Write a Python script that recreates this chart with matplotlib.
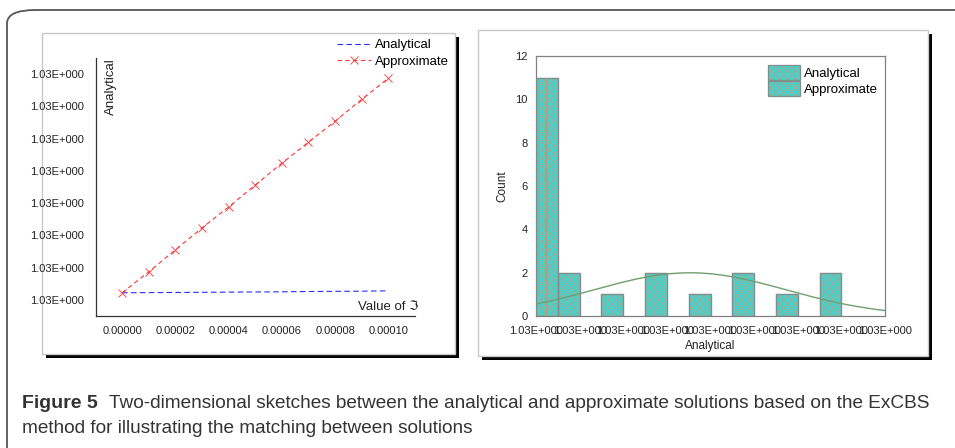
import numpy as np
import matplotlib
matplotlib.use('Agg')
import matplotlib.pyplot as plt
from matplotlib.patches import Rectangle, FancyBboxPatch
from matplotlib.ticker import FuncFormatter
from matplotlib.legend_handler import HandlerTuple

W, H = 955, 448

# left panel: value of the parameter vs solution (offset in units of 1e-6 above 1.03)
theta = [0.0, 0.00001, 0.00002, 0.00003, 0.00004, 0.00005,
         0.00006, 0.00007, 0.00008, 0.00009, 0.0001]
analytical_off = [0.22, 0.225, 0.23, 0.235, 0.24, 0.245, 0.25, 0.26, 0.265, 0.27, 0.28]
approx_off = [0.22, 0.87, 1.55, 2.23, 2.88, 3.56, 4.24, 4.89, 5.54, 6.22, 6.87]
y_base = 1.03
y_step = 1e-6

# right panel: histogram counts (bin width 0.5 in tick units)
bin_left = [0.0, 0.5, 1.5, 2.5, 3.5, 4.5, 5.5, 6.5]
bin_count = [11, 2, 1, 2, 1, 2, 1, 2]
bin_width = 0.5
n_total = 22
fit_mean = 3.53
fit_sd = 2.2
analytical_spike = 0.2

CYAN = '#45d2cf'
TAN = '#d8946c'
EDGE = '#7f8f8f'

def fx(px):
    return px / W

def fy(py):
    return 1 - py / H

fig = plt.figure(figsize=(9.55, 4.48), dpi=100)
plt.rcParams['font.family'] = ['Liberation Sans', 'DejaVu Sans']
plt.rcParams['hatch.linewidth'] = 0.5

# outer rounded frame
frame = FancyBboxPatch((fx(7), fy(470)), fx(980), 460 / H,
                       boxstyle='round,pad=0,rounding_size=0.03',
                       transform=fig.transFigure, fc='none', ec='#555555', lw=1.3, zorder=-5)
fig.patches.append(frame)

# panel boxes with shadow
for (x0, y0, x1, y1) in [(42, 33, 455, 354), (478, 30, 928, 356)]:
    fig.patches.append(Rectangle((fx(x0 + 4), fy(y1 + 4)), fx(x1 - x0), (y1 - y0) / H,
                                 transform=fig.transFigure, fc='black', ec='none', zorder=-4))
    fig.patches.append(Rectangle((fx(x0), fy(y1)), fx(x1 - x0), (y1 - y0) / H,
                                 transform=fig.transFigure, fc='white', ec='#c8c8c8', lw=1, zorder=-3))

# ---- left chart
ax1 = fig.add_axes([fx(96), fy(316), fx(415 - 96), (316 - 58) / H])
ax1.patch.set_visible(False)
ya = [y_base + v * y_step for v in analytical_off]
yb = [y_base + v * y_step for v in approx_off]
ax1.plot(theta, ya, ls='--', color='#2a2aff', lw=0.8, dashes=(5, 3), label='Analytical')
ax1.plot(theta, yb, ls='--', color='#ff3333', lw=0.8, dashes=(4, 3), marker='x',
         ms=6, mew=0.6, label='Approximate')
ax1.set_xlim(-0.98e-5, 1.1e-4)
ax1.set_ylim(y_base - 0.5 * y_step, y_base + 7.5 * y_step)
ax1.set_yticks([y_base + k * y_step for k in range(8)])
ax1.set_xticks(theta[::2])
ax1.yaxis.set_major_formatter(FuncFormatter(lambda v, p: '%.2fE+000' % v))
ax1.xaxis.set_major_formatter(FuncFormatter(lambda v, p: '%.5f' % v))
ax1.tick_params(length=0, labelsize=8, colors='#222222', pad=9)
ax1.tick_params(axis='x', pad=7)
for s in ['top', 'right']:
    ax1.spines[s].set_visible(False)
for s in ['left', 'bottom']:
    ax1.spines[s].set_color('#333333')
    ax1.spines[s].set_linewidth(0.9)
ax1.text(0.047, 1.0, 'Analytical', rotation=90, transform=ax1.transAxes,
         ha='center', va='top', fontsize=9.5, color='#222222')
ax1.text(1.01, 0.035, 'Value of \u2111', transform=ax1.transAxes,
         ha='right', va='center', fontsize=9.5, color='#222222')
ax1.legend(loc='upper right', bbox_to_anchor=(fx(458), fy(30)),
           bbox_transform=fig.transFigure, frameon=False, fontsize=9.5,
           handlelength=2.6, handletextpad=0.3, labelspacing=0.3, borderpad=0.2)

# ---- right chart
ax2 = fig.add_axes([fx(536), fy(316), fx(885 - 536), (316 - 56) / H])
ax2.patch.set_visible(False)
ax2.bar(bin_left, bin_count, width=bin_width, align='edge',
        color=CYAN, lw=0, zorder=2)
ax2.bar(bin_left, bin_count, width=bin_width, align='edge',
        facecolor='none', edgecolor=TAN, alpha=0.85, lw=0.1, hatch='xxxx', zorder=2.5)
ax2.bar(bin_left, bin_count, width=bin_width, align='edge',
        facecolor='none', edgecolor=EDGE, lw=1.0, zorder=2.7)
ax2.bar([analytical_spike], [bin_count[0]], width=0.08, align='edge',
        color='#cf9468', alpha=0.75, lw=0, zorder=3)
xs = np.linspace(0, 8, 200)
curve = n_total * bin_width / (fit_sd * np.sqrt(2 * np.pi)) * np.exp(-(xs - fit_mean) ** 2 / (2 * fit_sd ** 2))
ax2.plot(xs, curve, color='#6f9f6f', lw=1.0, zorder=4)
ax2.set_xlim(0, 8)
ax2.set_ylim(0, 12)
ax2.set_yticks(range(0, 13, 2))
ax2.set_xticks(range(9))
ax2.set_xticklabels(['1.03E+000'] * 9)
ax2.tick_params(length=0, labelsize=8, colors='#222222')
ax2.tick_params(axis='x', pad=7)
ax2.tick_params(axis='y', pad=6)
for s in ax2.spines.values():
    s.set_color('#808080')
    s.set_linewidth(0.9)
ax2.set_ylabel('Count', fontsize=8.5, color='#222222', labelpad=5)
ax2.set_xlabel('Analytical', fontsize=8.5, color='#222222', labelpad=3)
handles = []
for _ in range(2):
    handles.append((Rectangle((0, 0), 1, 1, fc=CYAN, lw=0),
                    Rectangle((0, 0), 1, 1, fc='none', ec=TAN, lw=0.1, alpha=0.85, hatch='xxxx'),
                    Rectangle((0, 0), 1, 1, fc='none', ec=EDGE, lw=0.9)))
ax2.legend(handles, ['Analytical', 'Approximate'], loc='upper right',
           bbox_to_anchor=(fx(887), fy(56)), bbox_transform=fig.transFigure,
           handler_map={tuple: HandlerTuple(ndivide=1)},
           frameon=False, fontsize=9.5, handlelength=2.4, handleheight=1.3,
           handletextpad=0.3, labelspacing=0.1, borderpad=0.2)

# caption
fig.text(fx(22), fy(403), 'Figure 5', fontsize=14, fontweight='bold',
         color='#333333', va='center')
fig.text(fx(109), fy(403), 'Two-dimensional sketches between the analytical and approximate solutions based on the ExCBS',
         fontsize=13.7, color='#333333', va='center')
fig.text(fx(22), fy(428), 'method for illustrating the matching between solutions',
         fontsize=13.7, color='#333333', va='center')

fig.savefig('out.png', dpi=100)
